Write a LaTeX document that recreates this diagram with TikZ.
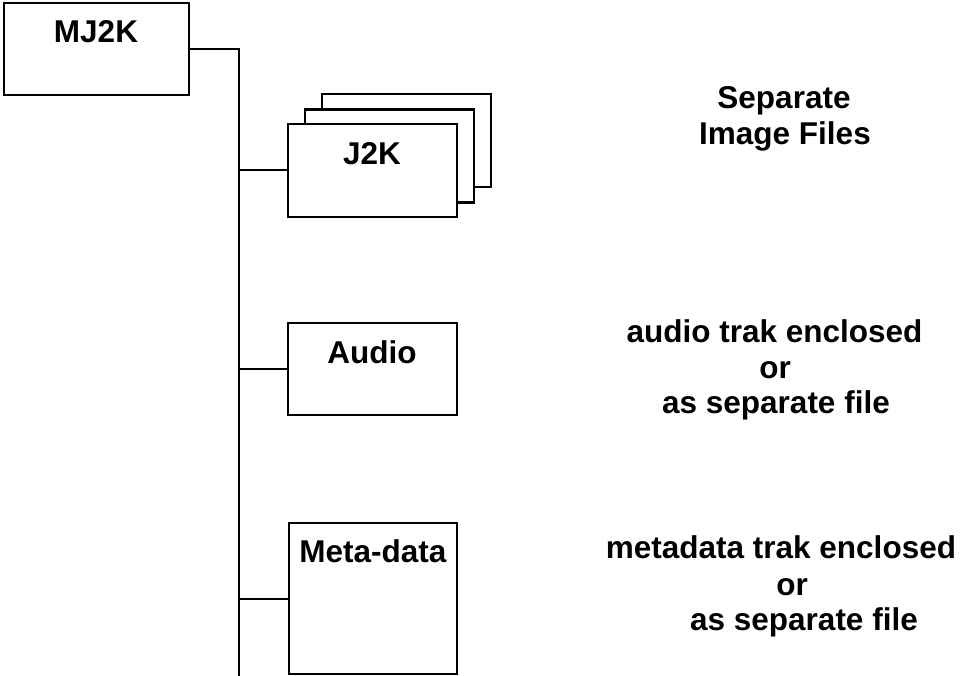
\documentclass[tikz,border=0pt]{standalone}
\usepackage{fontspec}
\setmainfont{Liberation Sans}
\begin{document}
\begin{tikzpicture}[x=1pt,y=-1pt,
  box/.style={draw=black,line width=2.8pt,fill=white,rectangle,inner sep=0pt},
  lbl/.style={font=\bfseries\fontsize{31.5}{36}\selectfont,inner sep=0pt,anchor=base},
  conn/.style={draw=black,line width=2pt}]
\useasboundingbox[fill=white] (0,0) rectangle (979,676);
% tree spine
\coordinate (top) at (239,49);
\coordinate (bot) at (239,677);
% boxes
\node[box,minimum width=185pt,minimum height=92pt] (mj2k) at (96.5,49) {};
\node[box,minimum width=169pt,minimum height=93pt] (j2kc) at (406.5,140.5) {};
\node[box,minimum width=169pt,minimum height=93pt] (j2kb) at (389.5,156) {};
\node[box,minimum width=169pt,minimum height=93pt] (j2k) at (372.5,170.5) {};
\node[box,minimum width=169pt,minimum height=92pt] (audio) at (372.5,369) {};
\node[box,minimum width=168pt,minimum height=151pt] (meta) at (373,598.5) {};
% connectors
\draw[conn] (mj2k.east) -- (top) -- (bot);
\draw[conn] (j2k.west) -- (j2k.west -| top);
\draw[conn] (audio.west) -- (audio.west -| top);
\draw[conn] (meta.west) -- (meta.west -| top);
% box labels
\node[lbl] (tmj2k) at (96,43) {MJ2K};
\node[lbl] (tj2k) at (372,165) {J2K};
\node[lbl] (taudio) at (372,363) {Audio};
\node[lbl] (tmeta) at (373,562) {Meta-data};
% side texts
\node[lbl] (s1) at (784,109) {Separate};
\node[lbl] (s2) at (785,145) {Image Files};
\node[lbl] (a1) at (774.5,342) {audio trak enclosed};
\node[lbl] (a2) at (775,378) {or};
\node[lbl] (a3) at (776,413) {as separate file};
\node[lbl] (m1) at (781,558) {metadata trak enclosed};
\node[lbl] (m2) at (792,595) {or};
\node[lbl] (m3) at (804,630) {as separate file};
\end{tikzpicture}
\end{document}
